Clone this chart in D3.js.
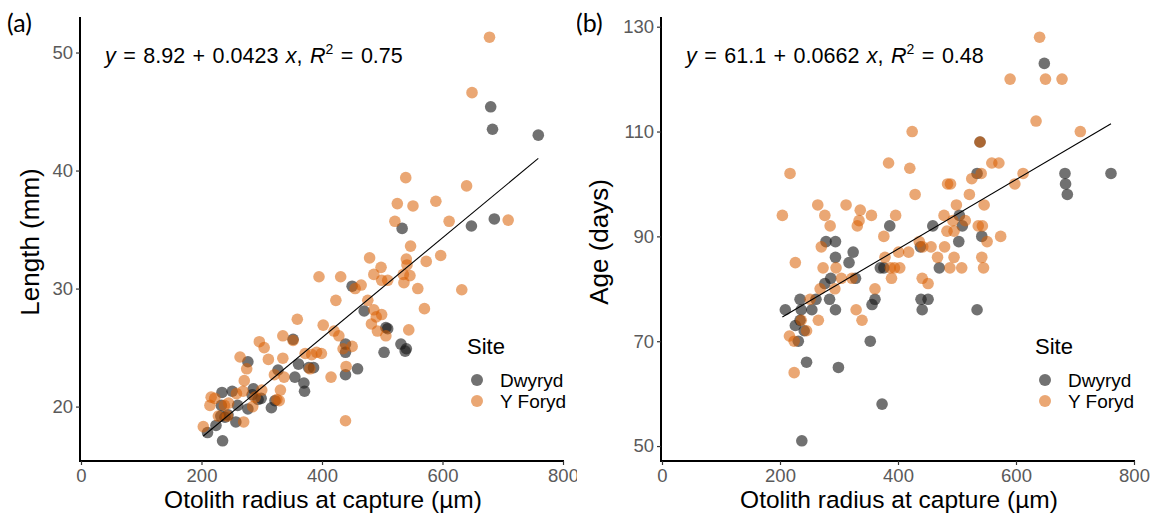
<!DOCTYPE html>
<html>
<head>
<meta charset="utf-8">
<script src="https://cdn.jsdelivr.net/npm/d3@7"></script>
<style>
  body { margin: 0; background: #fff; }
  svg { font-family: "Liberation Sans", Arial, sans-serif; }
</style>
</head>
<body>
<div id="chart"></div>
<script>
// Panel (a): otolith radius (µm) vs length (mm)
const lengthDwyryd = [
  [680, 45.4], [683, 43.5], [759, 43.0], [686, 35.9], [648, 35.3], [533, 35.1],
  [450, 30.2], [470, 28.1], [506, 26.7], [509, 26.6], [352, 25.7], [439, 25.3],
  [531, 25.3], [540, 24.9], [538, 24.7], [503, 24.6], [439, 24.6], [277, 23.8],
  [361, 23.6], [378, 23.3], [386, 23.3], [327, 23.1], [459, 23.2], [439, 22.7],
  [355, 22.5], [370, 22.0], [371, 21.3], [234, 21.2], [251, 21.3], [286, 21.5],
  [284, 21.0], [294, 20.6], [299, 20.7], [322, 20.5], [233, 20.1], [260, 20.1],
  [316, 19.9], [232, 19.2], [239, 19.1], [277, 19.8], [257, 18.7], [224, 18.4],
  [210, 17.8], [235, 17.1], [244, 19.3]
];
const lengthYForyd = [
  [678, 51.3], [649, 46.6], [539, 39.4], [640, 38.7], [525, 37.2], [589, 37.4],
  [551, 37.0], [521, 35.7], [611, 35.7], [709, 35.8], [547, 33.6], [597, 32.8],
  [479, 32.6], [540, 32.5], [573, 32.3], [541, 32.0], [498, 31.8], [486, 31.2],
  [535, 31.2], [546, 31.1], [395, 31.0], [431, 31.0], [509, 30.7], [499, 30.7],
  [536, 30.5], [465, 30.3], [455, 30.0], [559, 30.0], [632, 29.9], [423, 29.0],
  [476, 29.0], [570, 28.3], [486, 28.2], [499, 27.8], [490, 27.6], [359, 27.4],
  [402, 26.9], [482, 27.0], [492, 26.4], [506, 26.0], [544, 26.5], [420, 26.4],
  [428, 26.0], [335, 26.0], [296, 25.5], [352, 25.6], [304, 25.0], [435, 24.9],
  [450, 25.1], [372, 24.5], [391, 24.6], [399, 24.5], [383, 24.4], [264, 24.2],
  [335, 24.1], [311, 24.0], [275, 23.2], [380, 23.2], [440, 23.4], [321, 22.7],
  [337, 22.5], [415, 22.5], [271, 22.2], [331, 21.4], [269, 21.3], [258, 21.1],
  [300, 21.4], [289, 20.8], [216, 20.8], [222, 20.7], [245, 20.3], [214, 20.1],
  [238, 20.1], [329, 20.5], [285, 20.0], [228, 19.2], [243, 19.2], [270, 18.7],
  [203, 18.3], [439, 18.8], [325, 20.6]
];

// Panel (b): otolith radius (µm) vs age (days)
const ageDwyryd = [
  [648, 123], [539, 108], [534, 102], [683, 102], [761, 102], [684, 100],
  [687, 98], [504, 94], [509, 92], [386, 92], [459, 92], [542, 90],
  [503, 89], [278, 89], [294, 89], [324, 87], [294, 86], [438, 88],
  [317, 85], [470, 84], [370, 84], [376, 84], [286, 82], [328, 82],
  [276, 81], [284, 78], [261, 78], [234, 78], [361, 78], [439, 78],
  [451, 78], [356, 77], [209, 76], [254, 76], [294, 76], [441, 76],
  [534, 76], [236, 76], [226, 73], [234, 74], [241, 72], [231, 70],
  [353, 70], [245, 66], [299, 65], [373, 58], [237, 51]
];
const ageYForyd = [
  [640, 128], [590, 120], [650, 120], [678, 120], [634, 112], [709, 110],
  [424, 110], [539, 108], [384, 104], [559, 104], [571, 104], [420, 103],
  [217, 102], [541, 102], [612, 102], [484, 100], [489, 100], [598, 100],
  [525, 101], [429, 98], [521, 98], [546, 96], [499, 96], [264, 96],
  [312, 96], [204, 94], [276, 94], [355, 94], [396, 94], [478, 94],
  [336, 95], [334, 93], [285, 92], [331, 92], [493, 93], [514, 93],
  [536, 92], [543, 92], [483, 91], [376, 90], [574, 90], [551, 89],
  [495, 91], [436, 89], [270, 88], [418, 87], [401, 87], [442, 88],
  [456, 88], [479, 88], [295, 84], [273, 84], [378, 86], [387, 84],
  [394, 84], [403, 84], [467, 86], [495, 86], [542, 86], [488, 84],
  [508, 84], [545, 84], [226, 85], [441, 82], [389, 82], [451, 81],
  [304, 82], [293, 80], [268, 80], [361, 80], [322, 82], [251, 78],
  [329, 76], [339, 74], [265, 74], [236, 74], [245, 72], [216, 71],
  [224, 70], [224, 64]
];

const xTicks = [0, 200, 400, 600, 800];
const lengthTicks = [20, 30, 40, 50];
const ageTicks = [50, 70, 90, 110, 130];
const siteNames = ["Dwyryd", "Y Foryd"];
const siteColors = ["#1a1a1a", "#d95f02"];

const panels = [
  {
    tag: "(a)", series: [lengthDwyryd, lengthYForyd], yTicks: lengthTicks,
    yTitle: "Length (mm)", fit: [8.92, 0.0423],
    eq: ["8.92 + 0.0423", "0.75"],
    left: 81, right: 563, clipLeft: 0, clipRight: 577, yTitleX: 39, tagX: 7,
    legendX: 467
  },
  {
    tag: "(b)", series: [ageDwyryd, ageYForyd], yTicks: ageTicks,
    yTitle: "Age (days)", fit: [61.1, 0.0662],
    eq: ["61.1 + 0.0662", "0.48"],
    left: 662, right: 1134, clipLeft: 577, clipRight: 1151, yTitleX: 608, tagX: 576,
    legendX: 1035
  }
];

const width = 1151, height = 518;
const plotTop = 17, plotBottom = 461;

const svg = d3.select("#chart").append("svg")
  .attr("width", width)
  .attr("height", height);

panels.forEach((p, i) => {
  const all = p.series.flat();
  const yr = d3.extent(all, d => d[1]);
  const pad = (yr[1] - yr[0]) * 0.05;

  const x = d3.scaleLinear().domain([0, 800]).range([p.left, p.right]);
  const y = d3.scaleLinear().domain([yr[0] - pad, yr[1] + pad]).range([plotBottom, plotTop]);

  svg.append("clipPath").attr("id", "clip" + i)
    .append("rect").attr("x", p.clipLeft).attr("y", 0)
    .attr("width", p.clipRight - p.clipLeft).attr("height", height);

  const g = svg.append("g").attr("clip-path", `url(#clip${i})`);

  // Axes
  const xAxis = g.append("g")
    .attr("transform", `translate(0,${plotBottom})`)
    .call(d3.axisBottom(x).tickValues(xTicks).tickSize(4).tickPadding(4));
  const yAxis = g.append("g")
    .attr("transform", `translate(${p.left - 1},0)`)
    .call(d3.axisLeft(y).tickValues(p.yTicks).tickSize(4).tickPadding(3));

  [xAxis, yAxis].forEach(ax => {
    ax.select(".domain").attr("stroke", "#000").attr("stroke-width", 2);
    ax.selectAll(".tick line").attr("stroke", "#333").attr("stroke-width", 1.2);
    ax.selectAll(".tick text")
      .attr("fill", "#5a5a5a")
      .attr("font-size", 18.5)
      .attr("font-family", "Liberation Sans, Arial, sans-serif");
  });
  yAxis.select(".domain").attr("d", `M0,${plotTop}V${plotBottom}`);
  xAxis.select(".domain").attr("d", `M${p.left - 2},0H${p.right + 1}`);

  // Points
  p.series.forEach((pts, s) => {
    g.append("g").selectAll("circle")
      .data(pts)
      .join("circle")
      .attr("cx", d => x(d[0]))
      .attr("cy", d => y(d[1]))
      .attr("r", 5.8)
      .attr("fill", siteColors[s])
      .attr("fill-opacity", s === 0 ? 0.62 : 0.55);
  });

  // Fit line
  const xLo = d3.min(all, d => d[0]), xHi = d3.max(all, d => d[0]);
  g.append("line")
    .attr("x1", x(xLo)).attr("y1", y(p.fit[0] + p.fit[1] * xLo))
    .attr("x2", x(xHi)).attr("y2", y(p.fit[0] + p.fit[1] * xHi))
    .attr("stroke", "#000").attr("stroke-width", 1.1);

  // Equation
  const eq = g.append("text")
    .attr("x", p.left + 24).attr("y", 63)
    .attr("font-size", 21.5).attr("word-spacing", 1.5).attr("fill", "#000");
  eq.append("tspan").attr("font-style", "italic").text("y");
  eq.append("tspan").text(" = " + p.eq[0] + " ");
  eq.append("tspan").attr("font-style", "italic").text("x");
  eq.append("tspan").text(", ");
  eq.append("tspan").attr("font-style", "italic").text("R");
  eq.append("tspan").attr("font-size", 14).attr("dy", -9).text("2");
  eq.append("tspan").attr("dy", 9).text(" = " + p.eq[1]);

  // Axis titles
  g.append("text")
    .attr("x", (p.left + p.right) / 2 + 1).attr("y", 508)
    .attr("text-anchor", "middle").attr("font-size", 24.5)
    .text("Otolith radius at capture (µm)");
  g.append("text")
    .attr("transform", `translate(${p.yTitleX},${(plotTop + plotBottom) / 2 + 3}) rotate(-90)`)
    .attr("text-anchor", "middle").attr("font-size", 26)
    .text(p.yTitle);

  // Panel tag
  g.append("text")
    .attr("x", p.tagX).attr("y", 32)
    .attr("font-size", 25).attr("font-family", "Lato, sans-serif")
    .text(p.tag);

  // Legend
  const lg = g.append("g").attr("transform", `translate(${p.legendX},0)`);
  lg.append("text").attr("x", 0).attr("y", 354).attr("font-size", 22).text("Site");
  siteNames.forEach((name, s) => {
    lg.append("circle")
      .attr("cx", 10).attr("cy", 380 + s * 21).attr("r", 6)
      .attr("fill", siteColors[s])
      .attr("fill-opacity", s === 0 ? 0.62 : 0.55);
    lg.append("text")
      .attr("x", 33).attr("y", 387 + s * 21)
      .attr("font-size", 19).text(name);
  });
});
</script>
</body>
</html>
